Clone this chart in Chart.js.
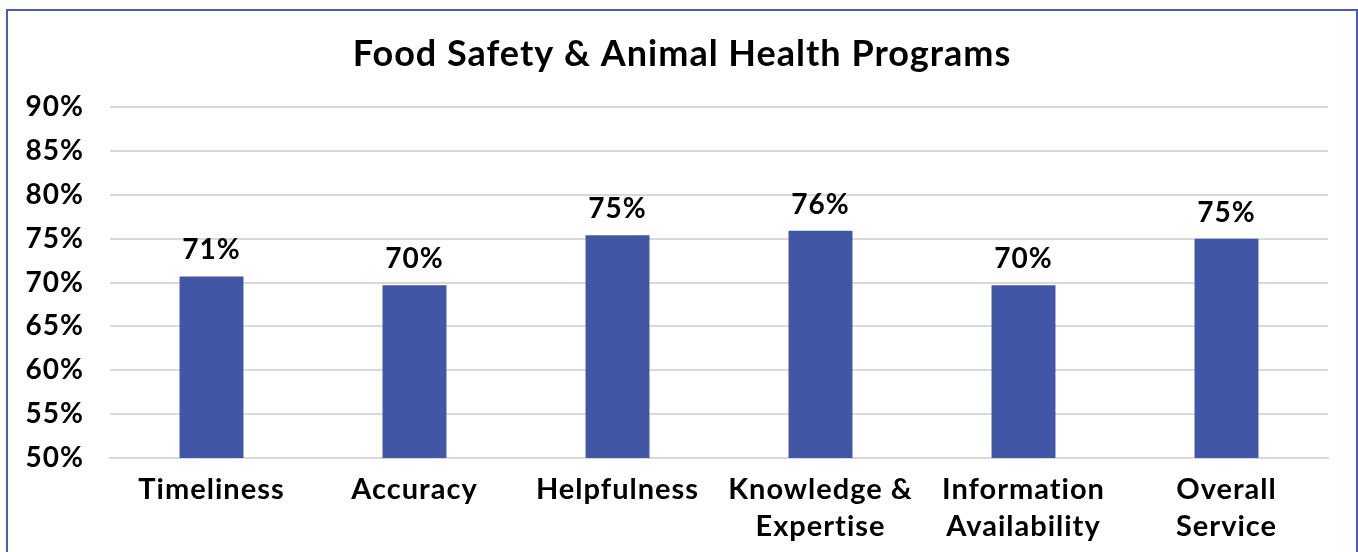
<!DOCTYPE html>
<html>
<head>
<meta charset="utf-8">
<script src="https://cdn.jsdelivr.net/npm/chart.js@4"></script>
<style>
  html, body { margin: 0; padding: 0; background: #fff; overflow: hidden; }
  #frame {
    position: absolute; left: 6px; top: 9px;
    width: 1348px; height: 560px;
    border: 2px solid #4a5cb8;
  }
  #chart-box { position: relative; width: 1348px; height: 541px; }
</style>
</head>
<body>
<div id="frame"><div id="chart-box"><canvas id="chart"></canvas></div></div>
<script>
var categories = ["Timeliness", "Accuracy", "Helpfulness", ["Knowledge &", "Expertise"], ["Information", "Availability"], ["Overall", "Service"]];
var scores = [70.7, 69.7, 75.4, 75.9, 69.7, 75.0];
var yMin = 50;
var yMax = 90;
var yStep = 5;

var fontFamily = "Lato, 'Open Sans', sans-serif";

// the original text is a little letter-spaced
var spacing = {
    id: 'spacing',
    beforeDraw: function(chart) { chart.ctx.letterSpacing = '1px'; },
    afterDraw: function(chart) { chart.ctx.letterSpacing = '0px'; }
};

// draws the percentage above every bar
var barLabels = {
    id: 'barLabels',
    afterDatasetsDraw: function(chart) {
        var ctx = chart.ctx;
        var meta = chart.getDatasetMeta(0);
        ctx.save();
        ctx.font = "bold 28px " + fontFamily;
        ctx.fillStyle = '#000';
        ctx.textAlign = 'center';
        ctx.textBaseline = 'bottom';
        meta.data.forEach(function(bar, i) {
            ctx.fillText(Math.round(scores[i]) + '%', bar.x, bar.y - 12);
        });
        ctx.restore();
    }
};

var chart = new Chart(document.getElementById("chart"), {
    type: 'bar',
    data: {
        labels: categories,
        datasets: [{
            data: scores,
            backgroundColor: '#4256a6',
            barPercentage: 0.315,
            categoryPercentage: 1
        }]
    },
    options: {
        responsive: true,
        maintainAspectRatio: false,
        animation: false,
        layout: { padding: 0 },
        plugins: {
            legend: { display: false },
            tooltip: { enabled: false },
            title: {
                display: true,
                text: 'Food Safety & Animal Health Programs',
                color: '#000',
                font: { family: fontFamily, size: 36, weight: 'bold' },
                padding: { top: 22, bottom: 31 }
            }
        },
        scales: {
            x: {
                grid: { display: false, drawTicks: false },
                border: { display: true, color: '#d9d9d9', width: 2 },
                ticks: {
                    color: '#000',
                    font: { family: fontFamily, size: 29, weight: 'bold', lineHeight: 1.25 },
                    padding: 14,
                    maxRotation: 0,
                    autoSkip: false
                },
                afterFit: function(scale) { scale.height = 94; }
            },
            y: {
                min: yMin,
                max: yMax,
                grid: { color: '#d9d9d9', lineWidth: 2, drawTicks: false },
                border: { display: false },
                ticks: {
                    stepSize: yStep,
                    color: '#000',
                    font: { family: fontFamily, size: 28, weight: 'bold' },
                    padding: 26,
                    callback: function(v) { return v + '%'; }
                },
                afterFit: function(scale) { scale.width = 102; }
            },
            // empty axis that keeps the right margin without shifting the title
            margin: {
                position: 'right',
                min: yMin,
                max: yMax,
                grid: { display: false, drawTicks: false },
                border: { display: false },
                ticks: { display: false },
                afterFit: function(scale) { scale.width = 28; }
            }
        }
    },
    plugins: [spacing, barLabels]
});
</script>
</body>
</html>
